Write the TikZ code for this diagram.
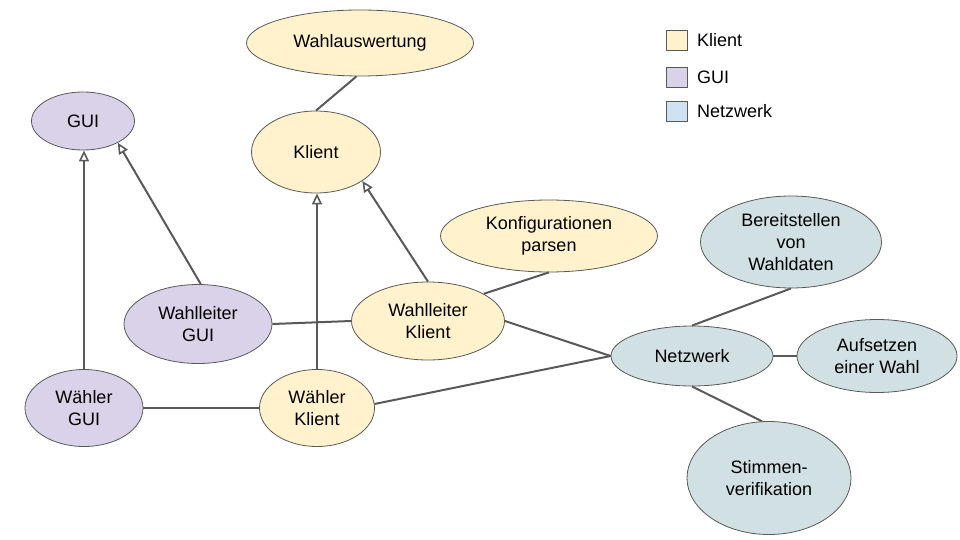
\documentclass[tikz,border=0pt]{standalone}
\usepackage{fontspec}
\setmainfont{Liberation Sans}
\usetikzlibrary{shapes.geometric,arrows.meta}
\definecolor{klient}{HTML}{FFF2CC}
\definecolor{gui}{HTML}{D9D2E9}
\definecolor{netz}{HTML}{D0E0E3}
\definecolor{netzleg}{HTML}{CFE2F3}
\definecolor{edgec}{HTML}{595959}
\tikzset{
  ell/.style={ellipse, draw=edgec, line width=0.8pt, inner sep=0pt, align=center,
    font=\fontsize{18}{21.6}\selectfont},
  kl/.style={ell, fill=klient},
  gu/.style={ell, fill=gui},
  nw/.style={ell, fill=netz},
  conn/.style={draw=edgec, line width=2pt},
  inh/.style={conn, -{Triangle[open, length=11pt, width=10pt, line width=1.6pt]}},
  legbox/.style={draw=edgec, line width=0.6pt, minimum width=21pt, minimum height=20pt, inner sep=0pt},
  legtxt/.style={anchor=west, inner sep=0pt, font=\fontsize{18}{21.6}\selectfont}
}
\begin{document}
\begin{tikzpicture}[x=1pt,y=-1pt]
\useasboundingbox (0,0) rectangle (960,540);
\node[kl, minimum width=227pt, minimum height=66pt] (wa) at (360,43) {Wahlauswertung};
\node[kl, minimum width=129pt, minimum height=82pt] (kl) at (316,152) {Klient};
\node[gu, minimum width=103pt, minimum height=58pt] (gui) at (83,121) {GUI};
\node[kl, minimum width=217pt, minimum height=72pt] (kp) at (549,236) {Konfigurationen\\parsen};
\node[kl, minimum width=153pt, minimum height=78pt] (wlk) at (428,321) {Wahlleiter\\Klient};
\node[gu, minimum width=148pt, minimum height=79pt] (wlg) at (198,324) {Wahlleiter\\GUI};
\node[gu, minimum width=118pt, minimum height=77pt] (wg) at (84,408) {Wähler\\GUI};
\node[kl, minimum width=115pt, minimum height=77pt] (wk) at (317,408) {Wähler\\Klient};
\node[nw, minimum width=162pt, minimum height=60pt] (nw) at (692,356) {Netzwerk};
\node[nw, minimum width=181pt, minimum height=92pt] (bw) at (791,242) {Bereitstellen\\von\\Wahldaten};
\node[nw, minimum width=160pt, minimum height=73pt] (aw) at (877,356) {Aufsetzen\\einer Wahl};
\node[nw, minimum width=164pt, minimum height=113pt] (sv) at (769,478) {Stimmen-\\verifikation};

\node[legbox, fill=klient] (lk) at (676.5,40) {};
\node[legtxt] (lkt) at (697,40) {Klient};
\node[legbox, fill=gui] (lg) at (676.5,77.5) {};
\node[legtxt] (lgt) at (697,77.5) {GUI};
\node[legbox, fill=netzleg] (ln) at (676.5,111.5) {};
\node[legtxt] (lnt) at (697,111.5) {Netzwerk};

\draw[conn] (wa.-96) -- (kl.north);
\draw[inh] (wg.north) -- (wg |- gui.south);
\draw[inh] (wlg.86) -- (gui.-32);
\draw[inh] (wk.north) -- (wk |- kl.south);
\draw[inh] (wlk.north) -- (kl.-32);
\draw[conn] (wlg.east) -- (wlk.west);
\draw[conn] (wg.east) -- (wk.west);
\draw[conn] (wlk.26) -- (kp.south);
\draw[conn] (wlk.east) -- (nw.west);
\draw[conn] (wk.4) -- (nw.west);
\draw[conn] (nw.north) -- (bw.south);
\draw[conn] (nw.east) -- (aw.west);
\draw[conn] (nw.south) -- (sv.97);
\end{tikzpicture}
\end{document}
